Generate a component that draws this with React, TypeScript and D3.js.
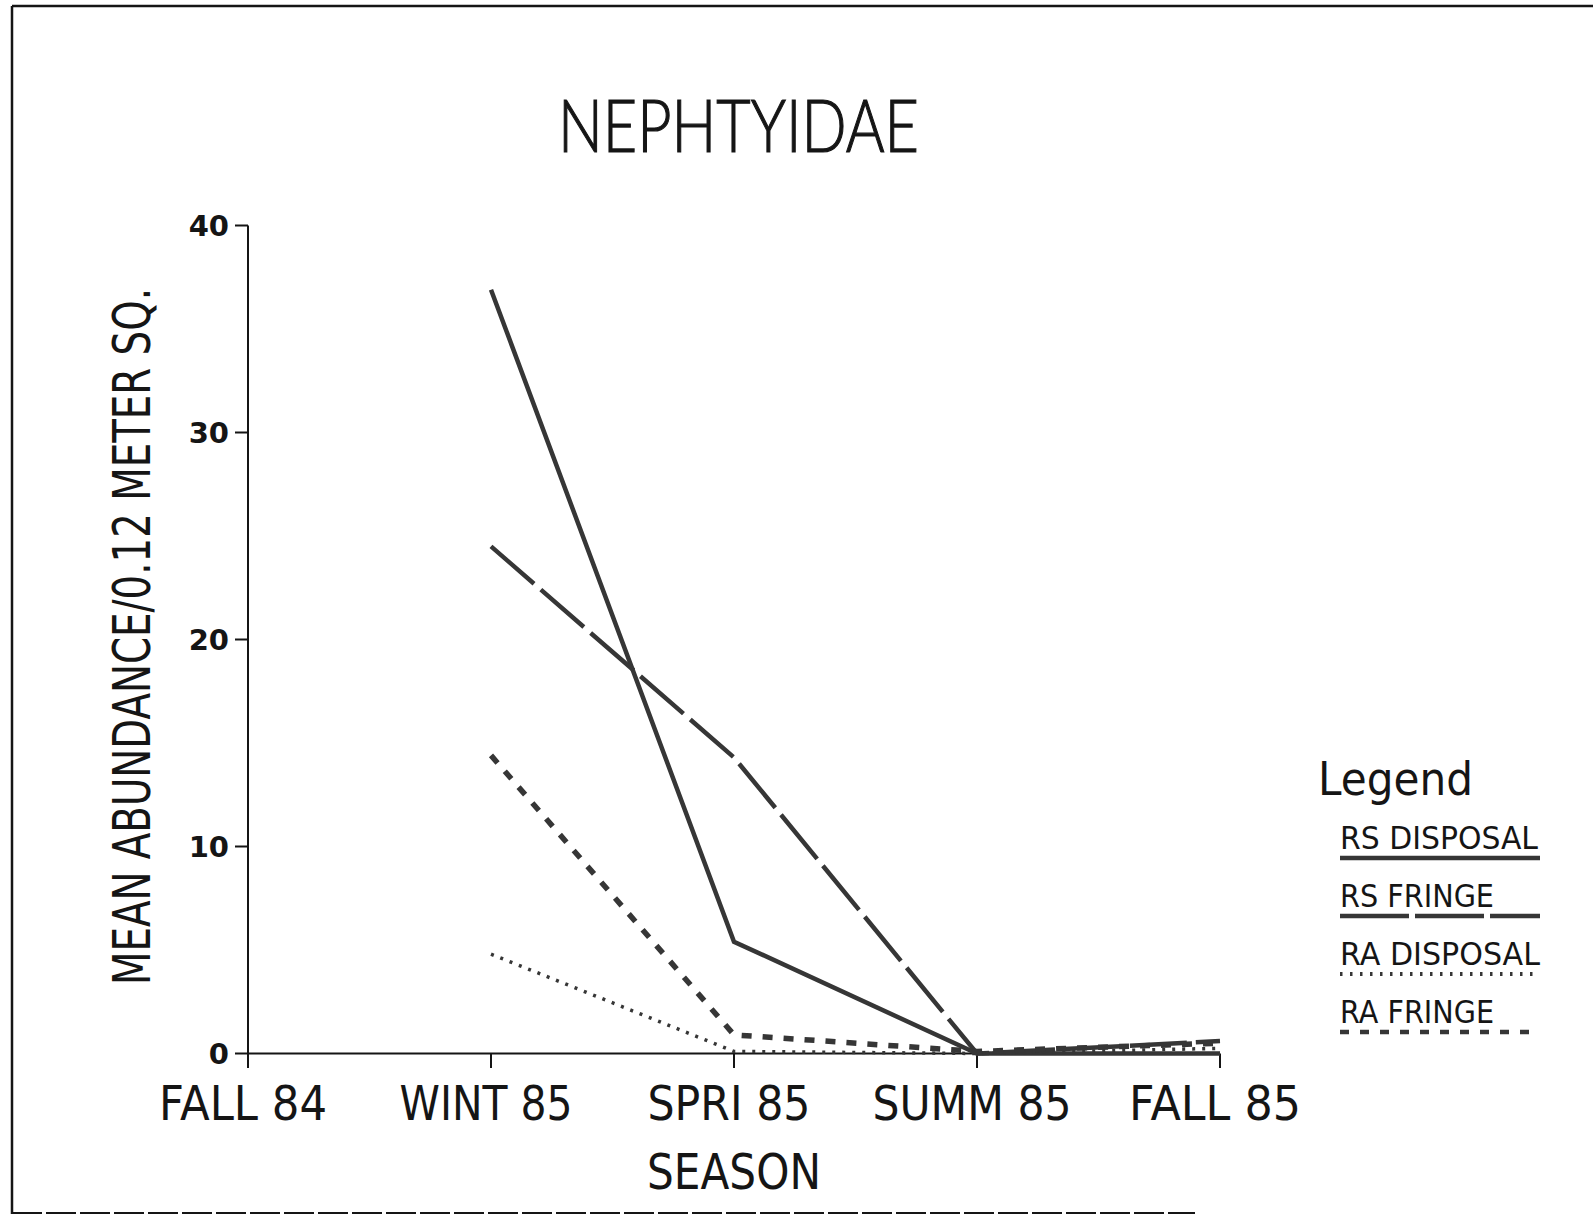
import React from "react";
import * as d3 from "d3";

const seasons = ["FALL 84", "WINT 85", "SPRI 85", "SUMM 85", "FALL 85"];
const rsDisposal: (number | null)[] = [null, 36.9, 5.4, 0, 0];
const rsFringe: (number | null)[] = [null, 24.5, 14.3, 0, 0.6];
const raDisposal: (number | null)[] = [null, 4.8, 0.1, 0, 0.25];
const raFringe: (number | null)[] = [null, 14.4, 0.9, 0.1, 0.5];
const yTicks = [0, 10, 20, 30, 40];
const legendLabels = ["RS DISPOSAL", "RS FRINGE", "RA DISPOSAL", "RA FRINGE"];

const W = 1593;
const H = 1232;
const INK = "#151515";
const LINE = "#363636";
const FONT = "'DejaVu Sans', sans-serif";

const seriesList = [
  { name: legendLabels[0], values: rsDisposal, dash: null as string | null, width: 4.5, legendDash: null as string | null, legendWidth: 4.5 },
  { name: legendLabels[1], values: rsFringe, dash: "57,9", width: 4.5, legendDash: "69,6", legendWidth: 4.5 },
  { name: legendLabels[2], values: raDisposal, dash: "3,7", width: 3.5, legendDash: "2.5,7.5", legendWidth: 4 },
  { name: legendLabels[3], values: raFringe, dash: "10,11", width: 5.5, legendDash: "9,11", legendWidth: 4.5 },
];

const xLabelWidths = [168, 173, 163, 199, 172];
const legendTextWidths = [198, 154, 200, 154];

export default function App() {
  const x = d3.scalePoint<string>().domain(seasons).range([248, 1220]);
  const y = d3.scaleLinear().domain([0, 40]).range([1053.5, 225.5]);

  const line = d3
    .line<number | null>()
    .defined((d) => d !== null)
    .x((_, i) => x(seasons[i]) as number)
    .y((d) => y(d as number));

  const legendBase = [849, 907, 965, 1023];

  return (
    <svg
      width={W}
      height={H}
      viewBox={`0 0 ${W} ${H}`}
      style={{ position: "absolute", left: 0, top: 0, background: "#fff" }}
    >
      <rect x={0} y={0} width={W} height={H} fill="#fff" />
      {/* frame */}
      <line x1={12} y1={6} x2={W} y2={6} stroke={INK} strokeWidth={2.5} />
      <line x1={12} y1={6} x2={12} y2={1214} stroke={INK} strokeWidth={2.5} />
      <line x1={12} y1={1213} x2={1195} y2={1213} stroke={INK} strokeWidth={2} strokeDasharray="30,4" />

      {/* title */}
      <text
        x={558}
        y={152}
        fontFamily="Lato, 'DejaVu Sans', sans-serif"
        fontWeight={300}
        fontSize={72}
        fill={INK}
        stroke={INK}
        strokeWidth={1.2}
        textLength={361}
        lengthAdjust="spacingAndGlyphs"
      >
        NEPHTYIDAE
      </text>

      {/* axes */}
      <line x1={x(seasons[0])} y1={y(40)} x2={x(seasons[0])} y2={1068} stroke={INK} strokeWidth={2} />
      <line x1={x(seasons[0])} y1={y(0)} x2={x(seasons[seasons.length - 1])} y2={y(0)} stroke={INK} strokeWidth={2} />
      {yTicks.map((t) => (
        <g key={t}>
          <line x1={235} x2={x(seasons[0])} y1={y(t)} y2={y(t)} stroke={INK} strokeWidth={2} />
          <text
            x={229}
            y={y(t) + 10.5}
            textAnchor="end"
            fontFamily={FONT}
            fontWeight="bold"
            fontSize={29}
            fill={INK}
          >
            {t}
          </text>
        </g>
      ))}
      {seasons.map((s, i) => (
        <g key={s}>
          <line x1={x(s)} x2={x(s)} y1={y(0)} y2={1068} stroke={INK} strokeWidth={2} />
          <text
            x={(x(s) as number) - 5}
            y={1120}
            textAnchor="middle"
            fontFamily={FONT}
            fontSize={48}
            fill={INK}
            textLength={xLabelWidths[i]}
            lengthAdjust="spacingAndGlyphs"
          >
            {s}
          </text>
        </g>
      ))}
      <text
        x={734}
        y={1189}
        textAnchor="middle"
        fontFamily={FONT}
        fontSize={49}
        fill={INK}
        textLength={174}
        lengthAdjust="spacingAndGlyphs"
      >
        SEASON
      </text>
      <text
        transform="translate(150,636.5) rotate(-90)"
        textAnchor="middle"
        fontFamily={FONT}
        fontSize={52}
        fill={INK}
        textLength={697}
        lengthAdjust="spacingAndGlyphs"
      >
        MEAN ABUNDANCE/0.12 METER SQ.
      </text>

      {/* series */}
      {seriesList.map((s) => (
        <path
          key={s.name}
          d={line(s.values) || ""}
          fill="none"
          stroke={LINE}
          strokeWidth={s.width}
          strokeDasharray={s.dash || undefined}
          strokeLinejoin="miter"
        />
      ))}

      {/* legend */}
      <text
        x={1318}
        y={795}
        fontFamily={FONT}
        fontSize={47}
        fill={INK}
        textLength={155}
        lengthAdjust="spacingAndGlyphs"
      >
        Legend
      </text>
      {seriesList.map((s, i) => (
        <g key={"lg" + s.name}>
          <text
            x={1340}
            y={legendBase[i]}
            fontFamily={FONT}
            fontSize={31.5}
            fill={INK}
            textLength={legendTextWidths[i]}
            lengthAdjust="spacingAndGlyphs"
          >
            {s.name}
          </text>
          <line
            x1={1340}
            x2={1540}
            y1={legendBase[i] + 9}
            y2={legendBase[i] + 9}
            stroke={LINE}
            strokeWidth={s.legendWidth}
            strokeDasharray={s.legendDash || undefined}
          />
        </g>
      ))}
    </svg>
  );
}
